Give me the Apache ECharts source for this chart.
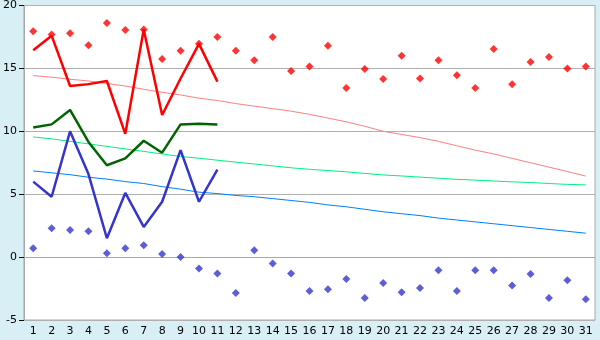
<!DOCTYPE html>
<html><head><meta charset="utf-8">
<script src="https://cdn.jsdelivr.net/npm/echarts@6/dist/echarts.min.js"></script>
<style>html,body{margin:0;padding:0;background:#d9eff6;}#c{width:600px;height:340px;}</style>
</head><body><div id="c"></div>
<script>
const days = Array.from({length:31},(_,i)=>String(i+1));
const maxPoints = [17.95,17.7,17.8,16.85,18.6,18.05,18.1,15.75,16.4,16.95,17.5,16.4,15.65,17.5,14.8,15.15,16.8,13.45,14.95,14.15,16.0,14.2,15.65,14.45,13.45,16.55,13.75,15.5,15.9,15.0,15.15];
const minPoints = [0.7,2.3,2.15,2.05,0.3,0.7,0.95,0.25,0.0,-0.9,-1.3,-2.85,0.55,-0.5,-1.3,-2.7,-2.55,-1.75,-3.25,-2.05,-2.8,-2.45,-1.05,-2.7,-1.05,-1.05,-2.25,-1.35,-3.25,-1.85,-3.35];
const redLine = [16.45,17.6,13.6,13.75,14.0,9.8,18.1,11.3,14.2,16.95,13.95];
const greenLine = [10.3,10.55,11.7,9.15,7.3,7.85,9.25,8.3,10.55,10.6,10.55];
const blueLine = [6.0,4.8,10.0,6.6,1.5,5.1,2.4,4.4,8.5,4.4,6.95];
const pinkTrend = [14.43,14.3,14.14,14.0,13.8,13.6,13.34,13.1,12.89,12.63,12.45,12.2,12.0,11.8,11.6,11.35,11.05,10.75,10.4,10.0,9.75,9.5,9.2,8.85,8.5,8.2,7.85,7.5,7.15,6.8,6.44];
const greenTrend = [9.55,9.4,9.2,9.0,8.8,8.6,8.4,8.2,8.0,7.86,7.7,7.55,7.4,7.25,7.1,6.98,6.88,6.78,6.65,6.53,6.45,6.36,6.27,6.18,6.12,6.05,5.98,5.93,5.85,5.78,5.74];
const blueTrend = [6.85,6.7,6.55,6.35,6.2,6.0,5.85,5.6,5.4,5.16,5.05,4.9,4.8,4.65,4.5,4.35,4.15,4.0,3.8,3.6,3.45,3.3,3.1,2.95,2.8,2.65,2.5,2.35,2.2,2.05,1.9];
const yTicks = {min:-5, max:20, interval:5};

const chart = echarts.init(document.getElementById('c'), null, {renderer:'canvas'});
const lineS = (data, color, width, z) => ({type:'line', data, symbol:'none', lineStyle:{color, width}, itemStyle:{color}, z, animation:false});
const scat = (data, color) => ({type:'scatter', data, symbol:'diamond', symbolSize:8, itemStyle:{color}, z:10, animation:false});
chart.setOption({
  backgroundColor:'#d9eff6',
  animation:false,
  textStyle:{fontFamily:'DejaVu Sans'},
  grid:{left:21, right:5, top:5, bottom:20, show:true, backgroundColor:'#ffffff', borderColor:'#a8a8a8', borderWidth:1},
  xAxis:{type:'category', data:days, boundaryGap:true,
    axisLine:{lineStyle:{color:'#a8a8a8'}},
    axisTick:{alignWithLabel:true, length:5, lineStyle:{color:'#000'}},
    axisLabel:{color:'#000', fontSize:11, margin:6, interval:0, fontFamily:'DejaVu Sans'},
    splitLine:{show:false}},
  yAxis:{type:'value', min:yTicks.min, max:yTicks.max, interval:yTicks.interval,
    axisLine:{show:true, lineStyle:{color:'#a8a8a8'}},
    axisTick:{show:true, length:5, lineStyle:{color:'#000'}},
    axisLabel:{color:'#000', fontSize:11, margin:7, fontFamily:'DejaVu Sans'},
    splitLine:{lineStyle:{color:'#b0b0b0'}}},
  series:[
    lineS(pinkTrend,'#ff8080',1,2),
    lineS(greenTrend,'#00f080',1,2),
    lineS(blueTrend,'#0080ff',1,2),
    lineS(redLine,'#ff0000',2.5,5),
    lineS(greenLine,'#006400',2.5,5),
    lineS(blueLine,'#3535cc',2.5,5),
    scat(maxPoints,'#ff0000'),
    scat(minPoints,'#3535cc')
  ]
});
</script></body></html>
